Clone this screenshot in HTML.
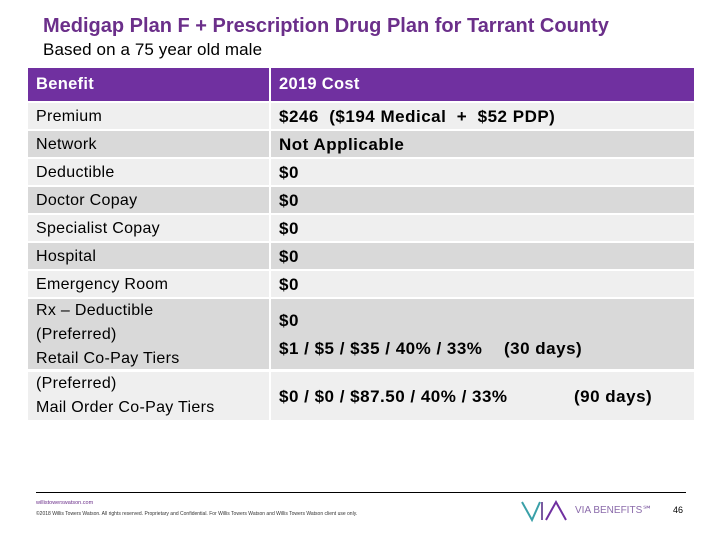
<!DOCTYPE html>
<html><head><meta charset="utf-8"><style>
body{margin:0;width:720px;height:540px;background:#fff;position:relative;overflow:hidden;font-family:"Liberation Sans",Arial,sans-serif;}
.abs{position:absolute;}
.title{left:43px;top:15px;font-size:20px;font-weight:bold;color:#6b2f8a;white-space:nowrap;}
.sub{left:43px;top:40px;font-size:17px;color:#000;white-space:nowrap;letter-spacing:0.1px}
.cell{position:absolute;box-sizing:border-box;padding-left:8px;font-size:16px;color:#000;letter-spacing:0.3px;white-space:nowrap}
.l{background:#efefef}.d{background:#d9d9d9}
.h{background:#7030a0;color:#fff;font-weight:bold;font-size:16.5px;}
.b{font-weight:bold;font-size:17px;letter-spacing:0.5px}
</style></head><body>
<div class="abs title">Medigap Plan F + Prescription Drug Plan for Tarrant County</div>
<div class="abs sub">Based on a 75 year old male</div>

<div>
<div class="cell h" style="left:28px;top:68px;width:241px;height:33px;line-height:33px">Benefit</div>
<div class="cell h" style="left:271px;top:68px;width:423px;height:33px;line-height:33px">2019 Cost</div>

<div class="cell l" style="left:28px;top:103px;width:241px;height:26px;line-height:28px">Premium</div>
<div class="cell l b" style="left:271px;top:103px;width:423px;height:26px;line-height:28px">$246&nbsp; ($194 Medical&nbsp; +&nbsp; $52 PDP)</div>

<div class="cell d" style="left:28px;top:131px;width:241px;height:26px;line-height:28px">Network</div>
<div class="cell d b" style="left:271px;top:131px;width:423px;height:26px;line-height:28px">Not Applicable</div>

<div class="cell l" style="left:28px;top:159px;width:241px;height:26px;line-height:28px">Deductible</div>
<div class="cell l b" style="left:271px;top:159px;width:423px;height:26px;line-height:28px">$0</div>

<div class="cell d" style="left:28px;top:187px;width:241px;height:26px;line-height:28px">Doctor Copay</div>
<div class="cell d b" style="left:271px;top:187px;width:423px;height:26px;line-height:28px">$0</div>

<div class="cell l" style="left:28px;top:215px;width:241px;height:26px;line-height:28px">Specialist Copay</div>
<div class="cell l b" style="left:271px;top:215px;width:423px;height:26px;line-height:28px">$0</div>

<div class="cell d" style="left:28px;top:243px;width:241px;height:26px;line-height:28px">Hospital</div>
<div class="cell d b" style="left:271px;top:243px;width:423px;height:26px;line-height:28px">$0</div>

<div class="cell l" style="left:28px;top:271px;width:241px;height:26px;line-height:28px">Emergency Room</div>
<div class="cell l b" style="left:271px;top:271px;width:423px;height:26px;line-height:28px">$0</div>

<div class="cell d" style="left:28px;top:299px;width:241px;height:70px;line-height:24px;padding-top:0">Rx – Deductible<br>(Preferred)<br>Retail Co-Pay Tiers</div>
<div class="cell d b" style="left:271px;top:299px;width:423px;height:70px;line-height:28px;padding-top:8px">$0<br>$1 / $5 / $35 / 40% / 33%<span style="position:absolute;left:233px">(30 days)</span></div>

<div class="cell l" style="left:28px;top:372px;width:241px;height:48px;line-height:24px">(Preferred)<br>Mail Order Co-Pay Tiers</div>
<div class="cell l b" style="left:271px;top:372px;width:423px;height:48px;line-height:50px">$0 / $0 / $87.50 / 40% / 33%<span style="position:absolute;left:303px">(90 days)</span></div>
</div>

<div class="abs" style="left:36px;top:492px;width:650px;height:1px;background:#000"></div>
<div class="abs" style="left:36px;top:500px;font-size:5.5px;color:#6b2f8a">willistowerswatson.com</div>
<div class="abs" style="left:36px;top:511px;font-size:5px;color:#333;white-space:nowrap">©2018 Willis Towers Watson. All rights reserved. Proprietary and Confidential. For Willis Towers Watson and Willis Towers Watson client use only.</div>
<svg class="abs" style="left:520px;top:498px" width="60" height="26">
<polyline points="2,4 12,22 20,4" fill="none" stroke="#3aa0a8" stroke-width="2"/>
<line x1="22" y1="4" x2="22" y2="22" stroke="#7a5aa0" stroke-width="2"/>
<polyline points="26,22 36,4 46,22" fill="none" stroke="#7030a0" stroke-width="2"/>
</svg>
<div class="abs" style="left:575px;top:505px;font-size:10px;color:#8a6aaa;white-space:nowrap">VIA BENEFITS℠</div>
<div class="abs" style="left:673px;top:505px;font-size:9px;color:#000">46</div>
</body></html>
